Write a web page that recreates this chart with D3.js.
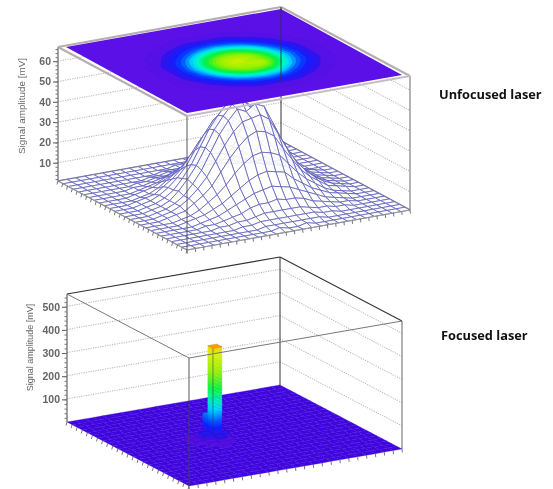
<!DOCTYPE html>
<html>
	<head>
		<meta charset="utf-8">
		<script src="https://d3js.org/d3.v7.min.js"></script>
		<style>
			body { margin: 0; background: #fff; }
			svg { display: block; filter: blur(0.5px); }
		</style>
	</head>
	<body>
		<script>
			// Unfocused laser: signal in mV, one row per j (front -> left), one column per i (front -> right)
			var unfocusedSignal = [
				[1,1,1,1,1,1,1,1,1,1,1,1,1,1,1,1,1,1,1,1,1,1,1,1,1,1],
				[1,1,1,1,1,1,1,1,1,1,1,2,1,1,2,1,1,1,1,1,1,1,1,1,1,1],
				[1,1,1,1,1,1,1,1,1,1,2,2,2,2,2,2,2,1,1,1,1,1,1,1,1,1],
				[1,1,1,1,1,1,1,1,2,2,3,3,3,3,3,3,3,2,2,1,1,1,1,1,1,1],
				[1,1,1,1,1,1,2,2,3,3,4,5,5,5,5,5,4,3,3,2,2,1,1,1,1,1],
				[1,1,1,1,1,2,2,3,4,5,7,8,8,9,8,8,7,5,4,3,2,2,1,1,1,1],
				[1,1,1,1,1,2,3,4,6,8,10,12,13,14,13,12,10,8,6,4,3,2,1,1,1,1],
				[1,1,1,1,2,3,4,6,8,11,14,17,19,20,19,18,14,11,8,6,4,3,2,1,1,1],
				[1,1,1,1,2,3,5,8,11,15,20,24,27,28,27,25,20,15,11,8,5,3,2,1,1,1],
				[1,1,1,2,3,4,7,10,14,20,26,31,35,37,36,33,26,20,14,10,7,4,3,2,1,1],
				[1,1,1,2,3,5,8,12,17,24,31,37,41,42,43,40,32,24,17,12,8,5,3,2,1,1],
				[1,1,1,2,3,5,8,13,19,27,35,41,46,44,47,45,36,27,19,13,8,5,3,2,1,1],
				[1,1,1,2,3,5,9,14,20,28,36,42,47,49,44,41,36,28,20,14,9,5,3,2,1,1],
				[1,1,1,2,3,5,8,13,19,27,35,41,46,47,46,41,35,27,19,13,8,5,3,2,1,1],
				[1,1,1,2,3,5,8,12,17,24,31,37,41,42,41,37,31,24,17,12,8,5,3,2,1,1],
				[1,1,1,2,3,4,7,10,14,20,26,31,35,36,35,31,26,20,14,10,7,4,3,2,1,1],
				[1,1,1,1,2,3,5,8,11,15,20,24,27,28,27,24,20,15,11,8,5,3,2,1,1,1],
				[1,1,1,1,2,3,4,6,8,11,14,17,19,20,19,17,14,11,8,6,4,3,2,1,1,1],
				[1,1,1,1,1,2,3,4,6,8,10,12,13,14,13,12,10,8,6,4,3,2,1,1,1,1],
				[1,1,1,1,1,2,2,3,4,5,7,8,8,9,8,8,7,5,4,3,2,2,1,1,1,1],
				[1,1,1,1,1,1,2,2,3,3,4,5,5,5,5,5,4,3,3,2,2,1,1,1,1,1],
				[1,1,1,1,1,1,1,1,2,2,3,3,3,3,3,3,3,2,2,1,1,1,1,1,1,1],
				[1,1,1,1,1,1,1,1,1,1,2,2,2,2,2,2,2,1,1,1,1,1,1,1,1,1],
				[1,1,1,1,1,1,1,1,1,1,1,1,2,2,1,1,1,1,1,1,1,1,1,1,1,1],
				[1,1,1,1,1,1,1,1,1,1,1,1,1,1,1,1,1,1,1,1,1,1,1,1,1,1],
				[1,1,1,1,1,1,1,1,1,1,1,1,1,1,1,1,1,1,1,1,1,1,1,1,1,1]
			];
			var unfocusedTicks = [10, 20, 30, 40, 50, 60];
			var unfocusedMinor = d3.range(2, 67, 2);

			// Focused laser: only the bins above the floor
			var focusedBinsU = [9, 9, 10, 9, 8, 7, 7, 8, 9, 10, 8, 10];
			var focusedBinsV = [11, 12, 11, 10, 11, 12, 11, 10, 9, 10, 12, 12];
			var focusedValues = [408, 105, 30, 32, 40, 14, 16, 18, 14, 15, 20, 22];
			var focusedTicks = [100, 200, 300, 400, 500];
			var focusedMinor = d3.range(20, 553, 20);

			var paletteStops = [0, 0.04, 0.05, 0.12, 0.18, 0.27, 0.34, 0.44, 0.58, 0.73, 0.85, 1];
			var paletteColors = ["#5a10e6", "#5010e8", "#3212ec", "#1020ff", "#0060ff", "#00d8ff", "#00f8c0",
			                     "#00f040", "#90f000", "#d8f000", "#ffb000", "#ff2000"];
			var palette = d3.scaleLinear().domain(paletteStops).range(paletteColors).clamp(true);

			var width = 553, height = 489;

			var svg = d3.select("body").append("svg")
				.attr("width", width)
				.attr("height", height);

			// Box projection: front floor corner plus the two floor edges and a vertical z scale
			function makeProjection(front, edgeU, edgeV, zScale, floorZ){
				return function(u, v, z){
					return [front[0] + edgeU[0] * u + edgeV[0] * v,
					        front[1] + edgeU[1] * u + edgeV[1] * v + zScale(z) - zScale(floorZ)];
				};
			}

			function poly(points){
				return "M" + points.map(function(p){ return p.join(","); }).join("L") + "Z";
			}

			function segment(g, a, b, color, w, dash){
				g.append("line")
					.attr("x1", a[0]).attr("y1", a[1])
					.attr("x2", b[0]).attr("y2", b[1])
					.attr("stroke", color)
					.attr("stroke-width", w)
					.attr("stroke-dasharray", dash || null);
			}

			// Walls, dotted grid, z axis and floor ticks shared by both boxes
			function drawBox(opts){
				var g = svg.append("g");
				var p = opts.project, z0 = opts.zMin, z1 = opts.zMax;

				opts.ticks.forEach(function(t){
					segment(g, p(0, 1, t), p(1, 1, t), "#bbb", 1.1, "1.2 1.2");
					segment(g, p(1, 1, t), p(1, 0, t), "#bbb", 1.1, "1.2 1.2");
				});

				segment(g, p(0, 1, z0), p(0, 1, z1), opts.wallColor, 1.1);
				segment(g, p(1, 1, z0), p(1, 1, z1), "#333", 1);
				segment(g, p(1, 0, z0), p(1, 0, z1), "#666", 1);

				var left = p(0, 1, z0)[0];
				var axis = d3.axisLeft(opts.zAxisScale)
					.tickValues(opts.ticks)
					.tickSize(opts.majorTick)
					.tickPadding(2)
					.tickFormat(d3.format("d"));
				var ag = svg.append("g").attr("transform", "translate(" + left + ",0)").call(axis);
				ag.select(".domain").remove();
				ag.selectAll("line").attr("stroke", "#555");
				ag.selectAll("text")
					.attr("fill", "#666")
					.attr("font-family", "Liberation Sans")
					.attr("font-weight", "bold")
					.attr("font-size", opts.tickFont);

				var minor = d3.axisLeft(opts.zAxisScale).tickValues(opts.minor).tickSize(2.5).tickFormat("");
				var mg = svg.append("g").attr("transform", "translate(" + left + ",0)").call(minor);
				mg.select(".domain").remove();
				mg.selectAll("line").attr("stroke", "#777");

				svg.append("text")
					.attr("transform", "translate(" + opts.titleX + "," + opts.titleY + ") rotate(-90)")
					.attr("text-anchor", "middle")
					.attr("font-family", "Liberation Sans")
					.attr("font-size", opts.titleFont)
					.attr("fill", "#666")
					.text("Signal amplitude [mV]");

				return g;
			}

			function drawFloorTicks(g, p, zMin, count){
				d3.range(0, count + 1).forEach(function(k){
					var a = p(0, k / count, zMin), b = p(k / count, 0, zMin);
					segment(g, a, [a[0] - 1, a[1] + 3.5], "#666", 0.9);
					segment(g, b, [b[0] + 0.4, b[1] + 3.5], "#666", 0.9);
				});
			}

			/* ---------- top box ---------- */
			var zTop = d3.scaleLinear().domain([1, 67]).range([0, -134]);
			var zTopAxis = d3.scaleLinear().domain([1, 67]).range([181, 47]);
			var projTop = makeProjection([187, 250], [223, -40], [-129, -69], zTop, 1);

			var topBox = drawBox({
				project: projTop, zMin: 1, zMax: 67, zAxisScale: zTopAxis,
				ticks: unfocusedTicks, minor: unfocusedMinor, wallColor: "#555",
				majorTick: 5, tickFont: 10.5, titleFont: 9.9, titleX: 25, titleY: 106
			});

			// floor rim behind the mesh
			segment(topBox, projTop(0, 1, 1), projTop(1, 1, 1), "#888", 1.6);
			segment(topBox, projTop(1, 1, 1), projTop(1, 0, 1), "#888", 1.6);

			var nU = unfocusedSignal[0].length, nV = unfocusedSignal.length;
			var uTop = d3.scaleLinear().domain([0, nU - 1]).range([0, 1]);
			var vTop = d3.scaleLinear().domain([0, nV - 1]).range([0, 1]);

			// mesh cells, back to front so nearer ones hide the rest
			var meshCells = [];
			d3.range(nV - 1).forEach(function(j){
				d3.range(nU - 1).forEach(function(i){ meshCells.push([i, j]); });
			});
			meshCells.sort(function(a, b){ return (b[0] + b[1]) - (a[0] + a[1]); });

			svg.append("g").selectAll("path").data(meshCells).join("path")
				.attr("d", function(c){
					var i = c[0], j = c[1];
					return poly([
						projTop(uTop(i), vTop(j), unfocusedSignal[j][i]),
						projTop(uTop(i + 1), vTop(j), unfocusedSignal[j][i + 1]),
						projTop(uTop(i + 1), vTop(j + 1), unfocusedSignal[j + 1][i + 1]),
						projTop(uTop(i), vTop(j + 1), unfocusedSignal[j + 1][i])
					]);
				})
				.attr("fill", "#fff")
				.attr("fill-opacity", 0.88)
				.attr("stroke", "#5c5cb8")
				.attr("stroke-opacity", 0.75)
				.attr("stroke-width", 1);

			var topFront = svg.append("g");
			segment(topFront, projTop(0, 1, 1), projTop(0, 0, 1), "#999", 1.2);
			segment(topFront, projTop(0, 0, 1), projTop(1, 0, 1), "#999", 1.2);
			segment(topFront, projTop(0, 0, 1), projTop(0, 0, 67), "#444", 0.9);
			drawFloorTicks(topFront, projTop, 1, 27);

			// colour plane on the lid, slightly narrower than the box
			segment(topFront, projTop(0, 1, 67), projTop(1, 1, 67), "#b5adb0", 2);
			segment(topFront, projTop(1, 1, 67), projTop(1, 0, 67), "#b5adb0", 2);
			segment(topFront, projTop(1, 0, 67), projTop(0, 0, 67), "#c5bfc5", 2);
			segment(topFront, projTop(0, 0, 67), projTop(0, 1, 67), "#b5adb0", 2);

			var projLid = makeProjection([187, 113], [215, -38], [-121, -66], zTop, 67);
			var lid = svg.append("g");
			lid.append("path")
				.attr("d", poly([projLid(0, 0, 67), projLid(1, 0, 67), projLid(1, 1, 67), projLid(0, 1, 67)]))
				.attr("fill", palette(0));

			var levels = d3.range(2.5, 60, 2.6);
			var contours = d3.contours().size([nU, nV]).thresholds(levels)(d3.merge(unfocusedSignal));
			var lidPath = d3.geoPath(d3.geoTransform({
				point: function(x, y){
					var q = projLid(uTop(x - 0.5), vTop(y - 0.5), 67);
					this.stream.point(q[0], q[1]);
				}
			}));
			lid.selectAll("path.band").data(contours).join("path")
				.attr("class", "band")
				.attr("d", lidPath)
				.attr("fill", function(d){ return palette((d.value - 1) / 66); });

			segment(svg, projTop(1, 1, 67), projTop(1, 1, 30), "#333", 0.9);

			/* ---------- bottom box ---------- */
			var zBot = d3.scaleLinear().domain([0, 553]).range([0, -128]);
			var zBotAxis = d3.scaleLinear().domain([0, 553]).range([422.5, 294.5]);
			var projBot = makeProjection([189, 486], [213, -37], [-122, -64], zBot, 0);
			var binCount = 24;
			var colorMax = 520;

			var botBox = drawBox({
				project: projBot, zMin: 0, zMax: 553, zAxisScale: zBotAxis,
				ticks: focusedTicks, minor: focusedMinor, wallColor: "#555",
				majorTick: 5, tickFont: 10.5, titleFont: 9, titleX: 33, titleY: 347.5
			});

			segment(botBox, projBot(0, 1, 553), projBot(1, 1, 553), "#333", 1.1);
			segment(botBox, projBot(1, 1, 553), projBot(1, 0, 553), "#333", 1.1);

			var floorCells = [];
			d3.range(binCount).forEach(function(j){
				d3.range(binCount).forEach(function(i){ floorCells.push([i, j]); });
			});
			svg.append("g").selectAll("path").data(floorCells).join("path")
				.attr("d", function(c){
					var i = c[0] / binCount, j = c[1] / binCount, s = 1 / binCount;
					return poly([projBot(i, j, 0), projBot(i + s, j, 0), projBot(i + s, j + s, 0), projBot(i, j + s, 0)]);
				})
				.attr("fill", "#4006e0")
				.attr("stroke", "#3800d0")
				.attr("stroke-width", 0.3);

			var botFront = svg.append("g");
			drawFloorTicks(botFront, projBot, 0, binCount);

			// bars, drawn back to front, side walls cut into thin coloured slices
			var bars = focusedValues.map(function(z, k){
				return { i: focusedBinsU[k], j: focusedBinsV[k], z: z };
			}).sort(function(a, b){ return (b.i + b.j) - (a.i + a.j); });

			var barsG = svg.append("g");
			bars.forEach(function(b){
				var s = 1 / binCount, u = b.i * s, v = b.j * s;
				var step = 6;
				d3.range(0, b.z, step).forEach(function(h){
					var top = Math.min(h + step, b.z);
					var col = palette(((h + top) / 2) / colorMax);
					[[[u, v + s], [u, v]], [[u, v], [u + s, v]]].forEach(function(face){
						barsG.append("path")
							.attr("d", poly([
								projBot(face[0][0], face[0][1], h),
								projBot(face[1][0], face[1][1], h),
								projBot(face[1][0], face[1][1], top),
								projBot(face[0][0], face[0][1], top)
							]))
							.attr("fill", col)
							.attr("stroke", col)
							.attr("stroke-width", 0.4);
					});
				});
				segment(barsG, projBot(u, v, 0), projBot(u, v, b.z), "#2a2a70", 0.5);
				var lidColor = b.z > 300 ? palette(0.87) : palette(b.z / colorMax);
				barsG.append("path")
					.attr("d", poly([projBot(u, v, b.z), projBot(u + s, v, b.z), projBot(u + s, v + s, b.z), projBot(u, v + s, b.z)]))
					.attr("fill", lidColor)
					.attr("stroke", d3.color(lidColor).darker(0.7))
					.attr("stroke-width", 0.5);
			});

			// box edges that pass in front of the bars
			var botEdges = svg.append("g");
			segment(botEdges, projBot(0, 0, 0), projBot(0, 0, 553), "#444", 0.9);
			segment(botEdges, projBot(0, 1, 553), projBot(0, 0, 553), "#777", 1);
			segment(botEdges, projBot(0, 0, 553), projBot(1, 0, 553), "#777", 1);

			/* ---------- labels ---------- */
			svg.append("text").attr("x", 439).attr("y", 99)
				.attr("font-family", "Open Sans").attr("font-weight", "bold").attr("font-size", 12.8)
				.attr("fill", "#111").text("Unfocused laser");
			svg.append("text").attr("x", 441).attr("y", 340)
				.attr("font-family", "Open Sans").attr("font-weight", "bold").attr("font-size", 12.8)
				.attr("fill", "#111").text("Focused laser");
		</script>
	</body>
</html>
